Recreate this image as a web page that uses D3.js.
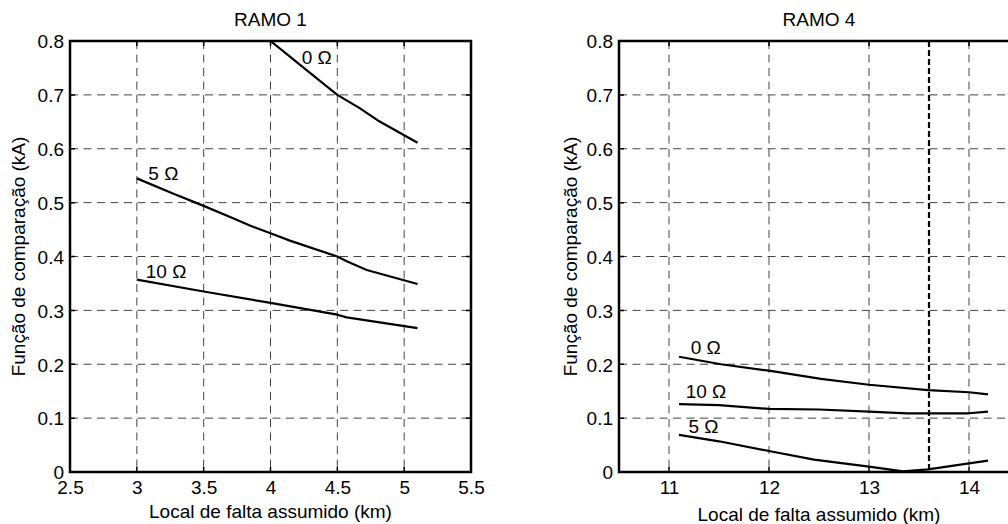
<!DOCTYPE html>
<html>
<head>
<meta charset="utf-8">
<script src="https://cdn.jsdelivr.net/npm/d3@7"></script>
<style>
  body { margin: 0; background: #fff; }
  svg text { font-family: "Liberation Sans", Arial, sans-serif; fill: #000; }
</style>
</head>
<body>
<div id="chart"></div>
<script>
// ---- data ----
// RAMO 1
var r1Ticks = [2.5, 3, 3.5, 4, 4.5, 5, 5.5];
var r1_0ohm = [[4.0, 0.800], [4.15, 0.770], [4.3, 0.740], [4.5, 0.700], [4.67, 0.675], [4.8, 0.653], [5.1, 0.611]];
var r1_5ohm = [[3.0, 0.545], [3.27, 0.517], [3.5, 0.494], [3.72, 0.471], [3.85, 0.457], [4.0, 0.443],
               [4.15, 0.429], [4.5, 0.400], [4.57, 0.391], [4.72, 0.375], [5.1, 0.349]];
var r1_10ohm = [[3.0, 0.357], [3.5, 0.335], [4.0, 0.314], [4.5, 0.292], [4.57, 0.287], [5.1, 0.267]];
var r1Labels = [["0 Ω", 4.234, 0.757], ["5 Ω", 3.086, 0.542], ["10 Ω", 3.067, 0.360]];

// RAMO 4
var r4Ticks = [11, 12, 13, 14];
var r4_0ohm = [[11.1, 0.214], [11.52, 0.200], [12.0, 0.188], [12.52, 0.173], [13.0, 0.162],
               [13.59, 0.152], [14.0, 0.148], [14.19, 0.144]];
var r4_10ohm = [[11.1, 0.126], [11.5, 0.124], [12.0, 0.117], [12.5, 0.116], [13.0, 0.112], [13.38, 0.109],
                [14.0, 0.109], [14.19, 0.112]];
var r4_5ohm = [[11.1, 0.069], [11.5, 0.057], [12.0, 0.039], [12.45, 0.023], [13.0, 0.010], [13.34, 0.001],
               [13.59, 0.005], [14.0, 0.016], [14.19, 0.021]];
var r4Labels = [["0 Ω", 11.217, 0.219], ["10 Ω", 11.167, 0.137], ["5 Ω", 11.194, 0.072]];
var r4Marker = 13.6;

var yTicks = [0, 0.1, 0.2, 0.3, 0.4, 0.5, 0.6, 0.7, 0.8];

var svg = d3.select("#chart").append("svg")
    .attr("width", 1008)
    .attr("height", 524);

var FS = "19px";

function panel(opt) {
  var x = d3.scaleLinear().domain(opt.xDomain).range(opt.xRange);
  var y = d3.scaleLinear().domain([0, 0.8]).range([472, 41]);
  var g = svg.append("g");
  var x0 = opt.xRange[0], x1 = opt.xRange[1], y0 = 472, y1 = 41;

  // grid
  g.selectAll(".vg").data(opt.xTicks.filter(function (d) { return x(d) > x0 + 1 && x(d) < x1 - 1; }))
    .enter().append("line")
    .attr("x1", function (d) { return x(d); }).attr("x2", function (d) { return x(d); })
    .attr("y1", y1).attr("y2", y0)
    .attr("stroke", "#444").attr("stroke-width", 1).attr("stroke-dasharray", "8,5.5");
  g.selectAll(".hg").data(yTicks.slice(1, -1))
    .enter().append("line")
    .attr("x1", x0).attr("x2", x1)
    .attr("y1", function (d) { return y(d); }).attr("y2", function (d) { return y(d); })
    .attr("stroke", "#444").attr("stroke-width", 1).attr("stroke-dasharray", "8,5.5");

  // inner tick marks
  g.selectAll(".xt").data(opt.xTicks).enter().append("path")
    .attr("d", function (d) { return "M" + x(d) + "," + y0 + "v-5M" + x(d) + "," + y1 + "v5"; })
    .attr("stroke", "#000").attr("stroke-width", 1.5);
  g.selectAll(".yt").data(yTicks).enter().append("path")
    .attr("d", function (d) { return "M" + x0 + "," + y(d) + "h5M" + x1 + "," + y(d) + "h-5"; })
    .attr("stroke", "#000").attr("stroke-width", 1.5);

  if (opt.marker != null) {
    g.append("line")
      .attr("x1", x(opt.marker)).attr("x2", x(opt.marker))
      .attr("y1", y1).attr("y2", y0)
      .attr("stroke", "#000").attr("stroke-width", 2.2).attr("stroke-dasharray", "6,3");
  }

  // curves
  var clipId = "clip" + opt.id;
  svg.append("clipPath").attr("id", clipId).append("rect")
    .attr("x", x0).attr("y", y1).attr("width", x1 - x0).attr("height", y0 - y1);
  var line = d3.line().x(function (d) { return x(d[0]); }).y(function (d) { return y(d[1]); });
  g.append("g").attr("clip-path", "url(#" + clipId + ")")
    .selectAll("path").data(opt.series).enter().append("path")
    .attr("d", line)
    .attr("fill", "none").attr("stroke", "#000").attr("stroke-width", 2.2)
    .attr("stroke-linejoin", "round");

  // series labels
  g.selectAll(".lab").data(opt.labels).enter().append("text")
    .attr("x", function (d) { return x(d[1]); })
    .attr("y", function (d) { return y(d[2]); })
    .style("font-size", FS)
    .text(function (d) { return d[0]; });

  // box
  g.append("rect")
    .attr("x", x0).attr("y", y1).attr("width", x1 - x0).attr("height", y0 - y1)
    .attr("fill", "none").attr("stroke", "#000").attr("stroke-width", 2.5);

  // axis labels
  var xa = d3.axisBottom(x).tickValues(opt.xTicks).tickSize(0).tickPadding(0)
    .tickFormat(function (d) { return String(d); });
  var xg = g.append("g").attr("transform", "translate(0," + y0 + ")").call(xa);
  xg.select(".domain").remove();
  xg.selectAll("text").style("font-size", FS).attr("dy", null).attr("y", 22);

  var ya = d3.axisLeft(y).tickValues(yTicks).tickSize(0).tickPadding(0)
    .tickFormat(function (d) { return d === 0 ? "0" : d.toFixed(1); });
  var yg = g.append("g").attr("transform", "translate(" + (x0 - 6) + ",0)").call(ya);
  yg.select(".domain").remove();
  yg.selectAll("text").style("font-size", FS).attr("dy", "0.36em");

  // titles
  g.append("text").attr("x", (x0 + x1) / 2).attr("y", 26)
    .attr("text-anchor", "middle").style("font-size", FS).text(opt.title);
  g.append("text").attr("x", (x0 + x1) / 2).attr("y", opt.xLabelY)
    .attr("text-anchor", "middle").style("font-size", FS).text("Local de falta assumido (km)");
  g.append("text")
    .attr("transform", "translate(" + opt.yLabelX + "," + ((y0 + y1) / 2) + ") rotate(-90)")
    .attr("text-anchor", "middle").style("font-size", FS).text("Função de comparação (kA)");
}

panel({
  id: 1, title: "RAMO 1",
  xDomain: [2.5, 5.5], xRange: [70, 471], xTicks: r1Ticks,
  series: [r1_0ohm, r1_5ohm, r1_10ohm], labels: r1Labels,
  xLabelY: 518, yLabelX: 25
});

panel({
  id: 4, title: "RAMO 4",
  xDomain: [10.5, 14.5], xRange: [619, 1019], xTicks: r4Ticks,
  series: [r4_0ohm, r4_10ohm, r4_5ohm], labels: r4Labels, marker: r4Marker,
  xLabelY: 521, yLabelX: 577
});
</script>
</body>
</html>
